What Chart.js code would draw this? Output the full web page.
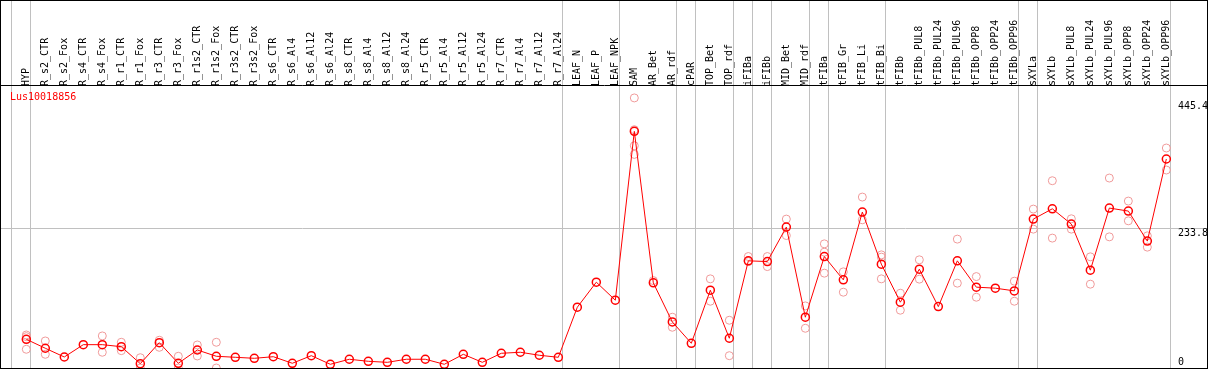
<!DOCTYPE html>
<html>
<head>
<meta charset="utf-8">
<script src="https://cdn.jsdelivr.net/npm/chart.js@4.4.0/dist/chart.umd.min.js"></script>
<style>
  body { margin: 0; background: #fff; }
  #frame { width: 1208px; height: 369px; box-sizing: border-box; border: 1px solid #000; }
  #expr { display: block; }
</style>
</head>
<body>
<div id="frame"><canvas id="expr" width="1206" height="367"></canvas></div>
<script>
const geneId = 'Lus10018856';

const categories = [
  'HYP', 'R_s2_CTR', 'R_s2_Fox', 'R_s4_CTR', 'R_s4_Fox', 'R_r1_CTR', 'R_r1_Fox', 'R_r3_CTR', 'R_r3_Fox',
  'R_r1s2_CTR', 'R_r1s2_Fox', 'R_r3s2_CTR', 'R_r3s2_Fox', 'R_s6_CTR', 'R_s6_Al4', 'R_s6_Al12', 'R_s6_Al24',
  'R_s8_CTR', 'R_s8_Al4', 'R_s8_Al12', 'R_s8_Al24', 'R_r5_CTR', 'R_r5_Al4', 'R_r5_Al12', 'R_r5_Al24',
  'R_r7_CTR', 'R_r7_Al4', 'R_r7_Al12', 'R_r7_Al24', 'LEAF_N', 'LEAF_P', 'LEAF_NPK', 'SAM', 'AR_Bet', 'AR_rdf',
  'cPAR', 'TOP_Bet', 'TOP_rdf', 'iFIBa', 'iFIBb', 'MID_Bet', 'MID_rdf', 'tFIBa', 'tFIB_Gr', 'tFIB_Li', 'tFIB_Bi',
  'tFIBb', 'tFIBb_PUL8', 'tFIBb_PUL24', 'tFIBb_PUL96', 'tFIBb_OPP8', 'tFIBb_OPP24', 'tFIBb_OPP96',
  'sXYLa', 'sXYLb', 'sXYLb_PUL8', 'sXYLb_PUL24', 'sXYLb_PUL96', 'sXYLb_OPP8', 'sXYLb_OPP24', 'sXYLb_OPP96'
];

const means = [
  48.0, 33.0, 18.4, 39.0, 39.0, 35.6, 7.2, 42.3, 7.9,
  30.1, 19.6, 17.9, 16.2, 18.9, 7.9, 20.6, 6.2,
  14.6, 11.2, 9.5, 14.6, 14.6, 6.2, 22.9, 9.5,
  24.6, 26.3, 21.3, 17.9, 101.6, 143.4, 113.3, 395.5, 142.3, 77.0,
  41.3, 130.0, 49.7, 179.1, 177.9, 235.5, 84.9, 186.3, 147.3, 260.6, 173.6,
  110.0, 165.2, 102.6, 179.1, 135.1, 133.4, 128.9,
  248.9, 266.1, 240.5, 163.5, 267.3, 262.3, 212.1, 349.3
];

// individual samples, only where they show apart from the mean
const replicates = [
  [55.2, 52.4, 31.3], [45.2, 22.9], [], [], [53.6, 26.3], [43.0, 29.0], [17.2, 0], [46.4, 34.6], [19.6, 0],
  [38.5, 20.1], [43.0, 0], [], [], [], [], [], [],
  [], [], [], [], [], [], [], [],
  [], [], [], [], [], [], [], [451.4, 398.3, 371.5, 357.0], [146.1], [84.9, 68.1],
  [], [149.0, 111.6], [79.8, 20.6], [186.3, 177.9], [186.3, 169.5], [248.9, 221.4], [103.8, 66.4],
  [207.5, 193.6, 158.5], [160.7, 126.7], [285.7, 247.7], [189.1, 185.3, 149.0],
  [125.0, 96.6], [180.8, 148.5], [], [215.4, 141.8], [152.8, 118.3], [], [145.1, 111.6],
  [265.6, 232.1], [313.0, 217.1], [249.4, 232.1], [185.8, 140.1], [317.5, 219.2], [279.0, 246.0],
  [220.9, 202.0], [367.7, 330.9]
];

const yLabels = [0, 233.8, 445.4];
const yGrid = [233.8];
// group separators come after these sample indexes
const groupEnds = [-1, 0, 28, 31, 34, 35, 37, 38, 39, 41, 42, 45, 52, 53, 60];

const FONT = { family: 'DejaVu Sans Mono', size: 10 };
const SEP = 0.23;
const X_MIN = -1.332, X_MAX = 62.14, Y_MAX = 473;

const meanPoints = means.map((v, i) => ({ x: i, y: v }));
const repPoints = [];
replicates.forEach((list, i) => list.forEach(v => repPoints.push({ x: i, y: v })));

const topTicks = categories.map((c, i) => ({ value: i }))
  .concat(groupEnds.map(g => ({ value: g + SEP })))
  .sort((a, b) => a.value - b.value);

const textPlugin = {
  id: 'texts',
  afterDraw(chart) {
    const ctx = chart.ctx, area = chart.chartArea, y = chart.scales.y;
    ctx.save();
    ctx.font = '10px "DejaVu Sans Mono"';
    ctx.textBaseline = 'middle';
    ctx.fillStyle = '#ff0000';
    ctx.fillText(geneId, area.left + 9, area.top + 12);
    ctx.fillStyle = '#000';
    yLabels.forEach(v => {
      const py = Math.min(y.getPixelForValue(v) + 5, area.bottom - 6);
      ctx.fillText(String(v), area.right - 29, py);
    });
    ctx.restore();
  }
};

new Chart(document.getElementById('expr'), {
  type: 'line',
  data: {
    datasets: [
      {
        data: meanPoints,
        borderColor: '#ff0000',
        borderWidth: 1,
        pointRadius: 4,
        pointBorderWidth: 1.5,
        pointBorderColor: '#ff0000',
        pointBackgroundColor: 'rgba(0,0,0,0)',
        tension: 0
      },
      {
        type: 'scatter',
        data: repPoints,
        showLine: false,
        pointRadius: 4,
        pointBorderWidth: 1,
        pointBorderColor: '#f09a9a',
        pointBackgroundColor: 'rgba(0,0,0,0)'
      }
    ]
  },
  options: {
    responsive: false,
    animation: false,
    devicePixelRatio: 1,
    events: [],
    layout: { padding: 0, autoPadding: false },
    plugins: { legend: { display: false }, tooltip: { enabled: false } },
    scales: {
      x: { type: 'linear', min: X_MIN, max: X_MAX, display: false },
      x2: {
        type: 'linear',
        position: 'top',
        min: X_MIN,
        max: X_MAX,
        afterBuildTicks: s => { s.ticks = topTicks.map(t => ({ value: t.value })); },
        afterFit: s => { s.height = 84; },
        ticks: {
          autoSkip: false,
          minRotation: 90,
          maxRotation: 90,
          padding: -86,
          labelOffset: 12,
          font: FONT,
          color: '#000',
          callback: v => Number.isInteger(v) ? categories[v] : ''
        },
        grid: {
          drawOnChartArea: true,
          drawTicks: true,
          tickLength: 85,
          lineWidth: 1,
          color: c => (c.tick && Number.isInteger(c.tick.value)) ? 'rgba(0,0,0,0)' : '#c0c0c0'
        },
        border: { display: true, color: '#000', width: 1 }
      },
      y: {
        min: 0,
        max: Y_MAX,
        afterBuildTicks: s => { s.ticks = yGrid.map(v => ({ value: v })); },
        ticks: { display: false },
        grid: { color: '#c0c0c0', drawTicks: false },
        border: { display: false }
      }
    }
  },
  plugins: [textPlugin]
});
</script>
</body>
</html>
